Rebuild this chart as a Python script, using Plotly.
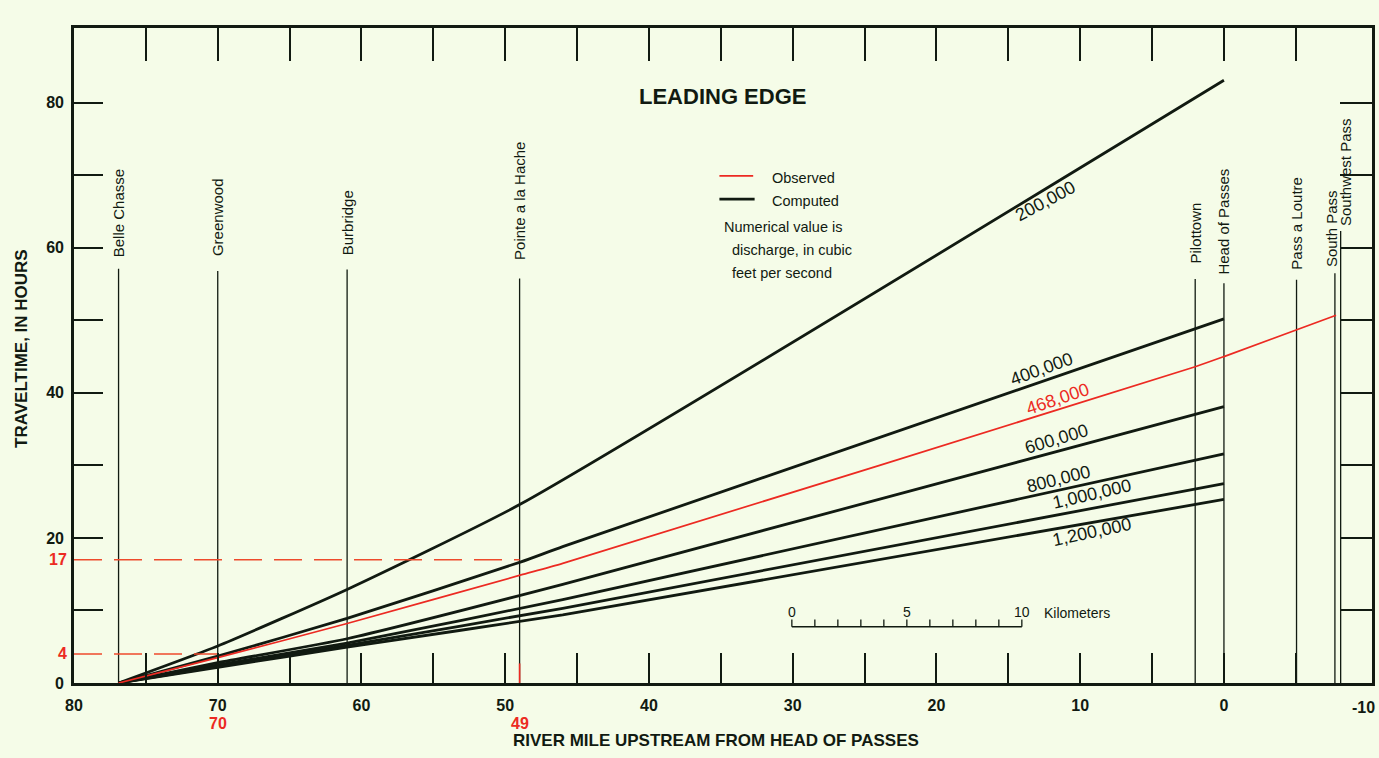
import plotly.graph_objects as go

# ---------------- colours / fonts ----------------
BG = "#f5fce8"
INK = "#111a11"
RED = "#ec2a22"
DASH_RED = "#ee4a2c"
FONT = "Liberation Sans, Arial, Helvetica, sans-serif"

# ---------------- data ----------------
# Computed travel time of the leading edge (hours) vs river mile,
# for discharges in cubic feet per second.
MILES_200K = [76.9, 70.0, 61.0, 48.9, 0.0]
HOURS_200K = [0.0, 5.1, 12.9, 24.7, 83.1]

MILES_400K = [76.9, 70.0, 61.0, 48.9, 46.0, 0.0]
HOURS_400K = [0.0, 3.7, 8.9, 16.7, 18.8, 50.2]

MILES_LOW = [76.9, 70.0, 61.0, 46.0, 0.0]
HOURS_600K = [0.0, 2.8, 6.1, 13.6, 38.1]
HOURS_800K = [0.0, 2.5, 5.5, 11.5, 31.6]
HOURS_1000K = [0.0, 2.3, 5.2, 10.3, 27.5]
HOURS_1200K = [0.0, 2.15, 4.95, 9.4, 25.3]

# Observed (468,000 ft3/s)
OBS_MILES = [76.9, 70.0, 61.0, 48.9, 46.0, 2.0, 0.0, -7.8]
OBS_HOURS = [0.0, 3.5, 8.2, 14.9, 16.5, 43.6, 45.0, 50.7]

# Observed arrival marks (dashed guides)
MARK_MILES = [70, 49]
MARK_HOURS = [4, 17]

# Series labels and where they are written
LINE_LABELS = ["200,000", "400,000", "468,000", "600,000", "800,000", "1,000,000", "1,200,000"]
LABEL_MILES = [12.4, 12.7, 11.6, 11.65, 11.5, 9.2, 9.2]
LABEL_HOURS = [66.4, 43.3, 39.2, 33.6, 28.1, 26.0, 20.8]
LABEL_ANGLES = [-28, -20, -18.5, -16.5, -14, -13, -12]

# Locations along the river
LOC_NAMES = ["Belle Chasse", "Greenwood", "Burbridge", "Pointe a la Hache", "Pilottown",
             "Head of Passes", "Pass a Loutre", "South Pass", "Southwest Pass"]
LOC_MILES = [76.9, 70.0, 61.0, 49.0, 2.0, 0.0, -5.05, -7.72, -8.12]
LOC_LINE_TOP = [57.1, 56.8, 57.0, 55.75, 55.7, 55.1, 55.6, 56.5, 62.3]
LOC_LABEL_Y = [64.7, 64.2, 63.4, 66.4, 62.0, 63.6, 63.4, 62.7, 70.4]
LOC_LABEL_SHIFT = [0, 0, 0, 0, 0, 0, 0, -4, 5]

# Axes
X_RANGE = [80, -10.3]
Y_RANGE = [0, 90.3]
X_TICKS = [80, 70, 60, 50, 40, 30, 20, 10, 0]
X_EDGE_LABEL = -10
X_MINOR = [75, 65, 55, 45, 35, 25, 15, 5, -5]
TOP_TICKS = [75, 70, 65, 60, 55, 50, 45, 40, 35, 30, 25, 20, 15, 10, 5, 0, -5]
Y_TICKS = [0, 20, 40, 60, 80]
Y_MINOR = [10, 30, 50, 70]
RIGHT_TICKS = [10, 20, 30, 40, 50, 60, 70, 80]

# Scale bar (kilometres)
SCALE_KM = [0, 1, 2, 3, 4, 5, 6, 7, 8, 9, 10]
SCALE_KM_LABELS = [0, 5, 10]

fig = go.Figure()

# location lines
for name, m, top in zip(LOC_NAMES, LOC_MILES, LOC_LINE_TOP):
    fig.add_trace(go.Scatter(x=[m, m], y=[0, top], mode="lines",
                             line=dict(color=INK, width=1.3), hoverinfo="skip", name=name))

# computed curves
computed = [(MILES_200K, HOURS_200K), (MILES_400K, HOURS_400K), (MILES_LOW, HOURS_600K),
            (MILES_LOW, HOURS_800K), (MILES_LOW, HOURS_1000K), (MILES_LOW, HOURS_1200K)]
for (mx, hy), lab in zip(computed, ["200,000", "400,000", "600,000", "800,000", "1,000,000", "1,200,000"]):
    fig.add_trace(go.Scatter(x=mx, y=hy, mode="lines", name=lab,
                             line=dict(color=INK, width=2.8, shape="spline", smoothing=0.5)))

# observed curve
fig.add_trace(go.Scatter(x=OBS_MILES, y=OBS_HOURS, mode="lines", name="Observed 468,000",
                         line=dict(color=RED, width=1.7, shape="spline", smoothing=0.5)))

# dashed guides for observed marks
for m, h in zip(MARK_MILES, MARK_HOURS):
    fig.add_trace(go.Scatter(x=[X_RANGE[0], m], y=[h, h], mode="lines",
                             line=dict(color=DASH_RED, width=1.6, dash="28px,12px"),
                             hoverinfo="skip"))
# red mark at bottom of Pointe a la Hache
fig.add_trace(go.Scatter(x=[MARK_MILES[1], MARK_MILES[1]], y=[0, 2.7], mode="lines",
                         line=dict(color=RED, width=1.6), hoverinfo="skip"))

# dummy trace for the top / right tick axes
fig.add_trace(go.Scatter(x=[None], y=[None], xaxis="x2", yaxis="y2", hoverinfo="skip"))

ann = []
# line labels
for t, mx, hy, a in zip(LINE_LABELS, LABEL_MILES, LABEL_HOURS, LABEL_ANGLES):
    ann.append(dict(x=mx, y=hy, xref="x", yref="y", text=t, showarrow=False, textangle=a,
                    font=dict(size=18, color=RED if t == "468,000" else INK)))
# location labels
for name, m, ly, sh in zip(LOC_NAMES, LOC_MILES, LOC_LABEL_Y, LOC_LABEL_SHIFT):
    ann.append(dict(x=m, y=ly, xref="x", yref="y", text=name, showarrow=False, textangle=-90,
                    xshift=sh, font=dict(size=15, color=INK)))
# title
ann.append(dict(x=34.9, y=80.8, xref="x", yref="y", text="<b>LEADING EDGE</b>", showarrow=False,
                font=dict(size=22, color=INK)))
# legend
ann.append(dict(x=31.6, y=69.6, xref="x", yref="y", text="Observed", showarrow=False,
                xanchor="left", font=dict(size=14.5, color=INK)))
ann.append(dict(x=31.6, y=66.4, xref="x", yref="y", text="Computed", showarrow=False,
                xanchor="left", font=dict(size=14.5, color=INK)))
for txt, mx, hy in [("Numerical value is", 34.9, 62.9), ("discharge, in cubic", 34.35, 59.7),
                    ("feet per second", 34.35, 56.5)]:
    ann.append(dict(x=mx, y=hy, xref="x", yref="y", text=txt, showarrow=False,
                    xanchor="left", font=dict(size=14.5, color=INK)))

TICK_FONT = dict(size=16, color=INK, weight="bold")
# edge label -10 (kept inside the page)
ann.append(dict(x=X_EDGE_LABEL, y=0, xref="x", yref="paper", text="-10", showarrow=False,
                yanchor="middle", yshift=-24, xshift=-4, font=TICK_FONT))

# red marks on axes
for m in MARK_MILES:
    ann.append(dict(x=m, y=0, xref="x", yref="paper", text=str(m), showarrow=False,
                    yanchor="middle", yshift=-40, font=dict(size=16, color=RED, weight="bold")))
for h in MARK_HOURS:
    ann.append(dict(x=0, y=h, xref="paper", yref="y", text=str(h), showarrow=False,
                    xanchor="right", xshift=-5, font=dict(size=16, color=RED, weight="bold")))

# axis titles
ann.append(dict(x=0.4946, y=0, xref="paper", yref="paper",
                text="<b>RIVER MILE UPSTREAM FROM HEAD OF PASSES</b>", showarrow=False,
                yanchor="middle", yshift=-57, font=dict(size=17, color=INK)))
ann.append(dict(x=0, y=0.51, xref="paper", yref="paper", text="<b>TRAVELTIME, IN HOURS</b>",
                showarrow=False, textangle=-90, xanchor="center", xshift=-52,
                font=dict(size=17, color=INK)))

# scale bar
def km_to_mile(k):
    return 30.06 - k * 1.6

BAR_Y = 7.75
shapes = []
shapes.append(dict(type="line", xref="x", yref="y", x0=km_to_mile(0), x1=km_to_mile(10),
                   y0=BAR_Y, y1=BAR_Y, line=dict(color=INK, width=1.5)))
for k in SCALE_KM:
    shapes.append(dict(type="line", xref="x", yref="y", x0=km_to_mile(k), x1=km_to_mile(k),
                       y0=BAR_Y, y1=BAR_Y + 1.0, line=dict(color=INK, width=1.3)))
for k in SCALE_KM_LABELS:
    ann.append(dict(x=km_to_mile(k), y=BAR_Y + 2.0, xref="x", yref="y", text=str(k),
                    showarrow=False, font=dict(size=14, color=INK)))
ann.append(dict(x=km_to_mile(10), y=BAR_Y + 1.9, xref="x", yref="y", text="Kilometers",
                showarrow=False, xanchor="left", xshift=20, font=dict(size=14, color=INK)))

# legend samples
shapes.append(dict(type="line", xref="x", yref="y", x0=35.1, x1=32.75, y0=69.9, y1=69.9,
                   line=dict(color=RED, width=1.7)))
shapes.append(dict(type="line", xref="x", yref="y", x0=35.1, x1=32.65, y0=66.7, y1=66.7,
                   line=dict(color=INK, width=2.8)))

tick_common = dict(ticks="inside", tickcolor=INK, tickwidth=2)

fig.update_layout(
    width=1379, height=758,
    margin=dict(l=74, r=7, t=28, b=75),
    paper_bgcolor=BG, plot_bgcolor=BG,
    showlegend=False,
    font=dict(family=FONT, color=INK),
    annotations=ann,
    shapes=shapes,
    xaxis=dict(range=X_RANGE, tickmode="array", tickvals=X_TICKS,
               ticktext=[str(v) for v in X_TICKS], ticklen=30, **tick_common,
               minor=dict(tickmode="array", tickvals=X_MINOR, ticks="inside", ticklen=30,
                          tickcolor=INK, tickwidth=2),
               showline=True, mirror=True, linewidth=2.7, linecolor=INK,
               showgrid=False, zeroline=False, ticklabelstandoff=6, automargin=False,
               tickfont=TICK_FONT),
    yaxis=dict(range=Y_RANGE, tickmode="array", tickvals=Y_TICKS, ticklen=29, **tick_common,
               minor=dict(tickmode="array", tickvals=Y_MINOR, ticks="inside", ticklen=29,
                          tickcolor=INK, tickwidth=2),
               showline=True, mirror=True, linewidth=2.7, linecolor=INK,
               showgrid=False, zeroline=False, ticklabelstandoff=4, automargin=False,
               tickfont=TICK_FONT),
    xaxis2=dict(range=X_RANGE, overlaying="x", side="top", anchor="y2", tickmode="array",
                tickvals=TOP_TICKS, ticklen=33, **tick_common, showticklabels=False,
                showgrid=False, zeroline=False, showline=False, automargin=False),
    yaxis2=dict(range=Y_RANGE, overlaying="y", side="right", anchor="x2", tickmode="array",
                tickvals=RIGHT_TICKS, ticklen=32, **tick_common, showticklabels=False,
                showgrid=False, zeroline=False, showline=False, automargin=False),
)

fig.write_html("out.html", config={"displayModeBar": False},
               post_script="document.body.style.margin='0px';")
